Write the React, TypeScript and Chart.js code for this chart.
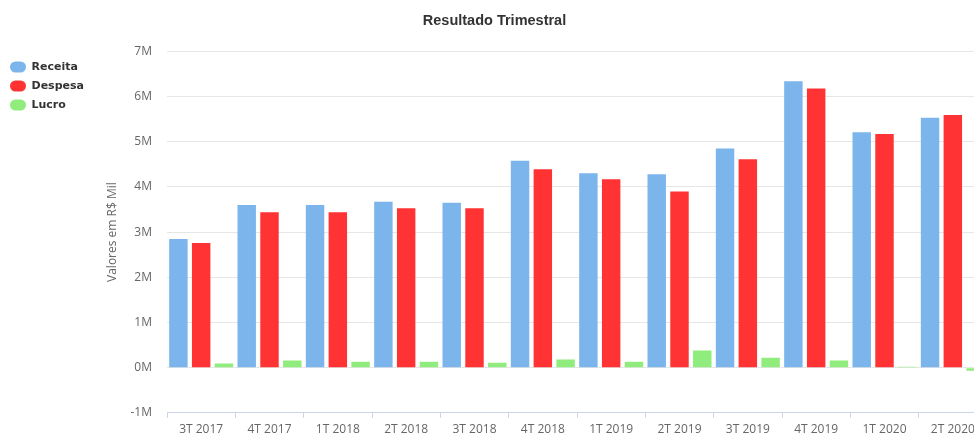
import React, { useEffect, useRef } from "react";
import { Chart, registerables } from "chart.js";

Chart.register(...registerables);

const categories = [
  "3T 2017", "4T 2017", "1T 2018", "2T 2018", "3T 2018", "4T 2018",
  "1T 2019", "2T 2019", "3T 2019", "4T 2019", "1T 2020", "2T 2020",
];
const receita = [2850000, 3600000, 3600000, 3670000, 3650000, 4580000, 4300000, 4280000, 4850000, 6340000, 5210000, 5530000];
const despesa = [2760000, 3440000, 3440000, 3530000, 3530000, 4390000, 4170000, 3900000, 4610000, 6180000, 5170000, 5590000];
const lucro = [90000, 160000, 130000, 130000, 110000, 180000, 130000, 380000, 220000, 160000, 20000, -70000];

const seriesNames = ["Receita", "Despesa", "Lucro"];
const seriesColors = ["#7cb5ec", "#ff3333", "#90ed7d"];
const yMin = -1000000;
const yMax = 7000000;
const yStep = 1000000;

const LEGEND_FONT_FAMILY = "'DejaVu Sans', sans-serif";
const LEGEND_FONT_SIZE = 11;
const LEGEND_PAD = 8;
const LEGEND_BOX_W = 16;
const LAYOUT_LEFT = 2;
const PLOT_LEFT = 165;
const YTITLE_CENTER = 111;

export default function App() {
  const ref = useRef<HTMLCanvasElement | null>(null);

  useEffect(() => {
    if (!ref.current) return;
    const mctx = document.createElement("canvas").getContext("2d")!;
    mctx.font = `bold ${LEGEND_FONT_SIZE}px ${LEGEND_FONT_FAMILY}`;
    const maxText = Math.max(...seriesNames.map((n) => mctx.measureText(n).width));
    const legendW = LEGEND_PAD * 2 + LEGEND_BOX_W + LEGEND_FONT_SIZE / 2 + maxText;
    const yWidth = PLOT_LEFT - LAYOUT_LEFT - legendW;
    const yTitlePad = YTITLE_CENTER - 7.2 - LAYOUT_LEFT - legendW;

    const values = [receita, despesa, lucro];
    const chart = new Chart(ref.current, {
      type: "bar",
      data: {
        labels: categories,
        datasets: seriesNames.map((name, i) => ({
          label: name,
          data: values[i],
          backgroundColor: seriesColors[i],
          borderWidth: 0,
          categoryPercentage: 1,
          barPercentage: 0.81,
        })),
      },
      options: {
        animation: false,
        responsive: false,
        maintainAspectRatio: false,
        layout: { padding: { left: LAYOUT_LEFT, right: 0, top: 0, bottom: 0 } },
        plugins: {
          title: {
            display: true,
            text: "Resultado Trimestral",
            color: "#333333",
            font: { family: "'Liberation Sans', Arial, sans-serif", size: 14.5, weight: "bold" },
            padding: { top: 12, bottom: 22 },
          },
          legend: {
            position: "left",
            align: "start",
            title: {
              display: true,
              text: "",
              font: { size: 10 },
              padding: { top: 41.5, bottom: 0 },
            },
            labels: {
              boxWidth: LEGEND_BOX_W,
              boxHeight: 11,
              padding: LEGEND_PAD,
              useBorderRadius: true,
              borderRadius: 5.5,
              color: "#333333",
              font: { family: LEGEND_FONT_FAMILY, size: LEGEND_FONT_SIZE, weight: "bold" },
            },
          },
          tooltip: { enabled: false },
        },
        scales: {
          x: {
            grid: {
              display: true,
              drawOnChartArea: false,
              drawTicks: true,
              tickLength: 5,
              color: "#ccd6eb",
              offset: true,
            },
            border: { display: true, color: "#ccd6eb" },
            ticks: {
              color: "#666666",
              font: { family: "'Open Sans', sans-serif", size: 12 },
              padding: 5,
              maxRotation: 0,
              autoSkip: false,
            },
            afterFit: (scale: any) => {
              scale.height = 22;
            },
          },
          y: {
            min: yMin,
            max: yMax,
            grid: { color: "#e6e6e6", drawTicks: false },
            border: { display: false },
            ticks: {
              stepSize: yStep,
              padding: 15,
              color: "#666666",
              font: { family: "'Open Sans', sans-serif", size: 12 },
              callback: (v: any) => `${Number(v) / 1000000}M`,
            },
            title: {
              display: true,
              text: "Valores em R$ Mil",
              color: "#666666",
              font: { family: "'Open Sans', sans-serif", size: 12 },
              padding: { top: yTitlePad, bottom: 0 },
            },
            afterFit: (scale: any) => {
              scale.width = yWidth;
            },
          },
        },
      },
    });
    return () => chart.destroy();
  }, []);

  return (
    <div style={{ position: "fixed", left: 0, top: 0, width: 974, height: 435, overflow: "hidden", background: "#fff" }}>
      <canvas ref={ref} width={987} height={435} style={{ width: 987, height: 435, display: "block" }} />
    </div>
  );
}
